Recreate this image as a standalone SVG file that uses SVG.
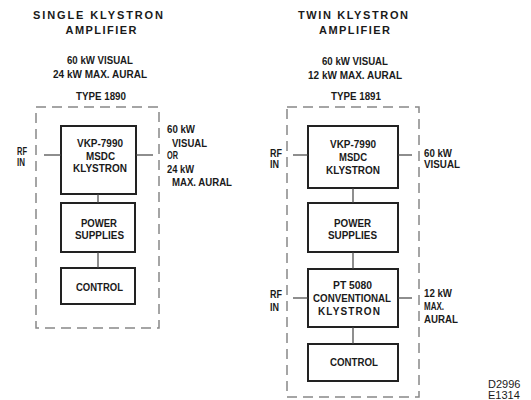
<svg xmlns="http://www.w3.org/2000/svg" width="531" height="400" viewBox="0 0 531 400">
<style>
text{font-family:"Liberation Sans",Arial,sans-serif;font-weight:bold;fill:#1a1a1a;font-size:10px}
.t{font-size:11px}
.m{text-anchor:middle}
.box{fill:none;stroke:#222;stroke-width:2}
.dash{fill:none;stroke:#888;stroke-width:1.5;stroke-dasharray:10 6}
.c line{stroke:#444;stroke-width:1.2}
.id{font-weight:normal;font-size:11px}
</style>
<rect width="531" height="400" fill="#fff"/>
<!-- left panel labels -->
<g id="left-title">
<text class="t m" x="98" y="19" textLength="130">SINGLE KLYSTRON</text>
<text class="t m" x="101" y="34" textLength="71">AMPLIFIER</text>
<text class="m" x="100" y="64" textLength="66" lengthAdjust="spacingAndGlyphs">60 kW VISUAL</text>
<text class="m" x="100" y="78" textLength="94" lengthAdjust="spacingAndGlyphs">24 kW MAX. AURAL</text>
<text class="m" x="101" y="100" textLength="50" lengthAdjust="spacingAndGlyphs">TYPE 1890</text>
</g>
<rect id="left-enclosure" class="dash" x="36" y="107" width="123" height="221"/>
<g id="left-klystron">
<rect class="box" x="61" y="126" width="75" height="68"/>
<text class="m" x="100" y="147" textLength="46" lengthAdjust="spacingAndGlyphs">VKP-7990</text>
<text class="m" x="100.5" y="160" textLength="29" lengthAdjust="spacingAndGlyphs">MSDC</text>
<text class="m" x="100" y="172" textLength="54" lengthAdjust="spacingAndGlyphs">KLYSTRON</text>
</g>
<g id="left-power">
<rect class="box" x="61" y="203" width="74" height="49"/>
<text class="m" x="99" y="227" textLength="36" lengthAdjust="spacingAndGlyphs">POWER</text>
<text class="m" x="99.5" y="239" textLength="49" lengthAdjust="spacingAndGlyphs">SUPPLIES</text>
</g>
<g id="left-control">
<rect class="box" x="61" y="268" width="74" height="36"/>
<text class="m" x="99.5" y="291" textLength="47" lengthAdjust="spacingAndGlyphs">CONTROL</text>
</g>
<g id="left-io">
<text x="17" y="155" textLength="10" lengthAdjust="spacingAndGlyphs">RF</text>
<text x="17" y="166" textLength="8" lengthAdjust="spacingAndGlyphs">IN</text>
<text x="167" y="133" textLength="28" lengthAdjust="spacingAndGlyphs">60 kW</text>
<text x="172" y="147" textLength="35" lengthAdjust="spacingAndGlyphs">VISUAL</text>
<text x="167" y="159" textLength="11" lengthAdjust="spacingAndGlyphs">OR</text>
<text x="167" y="173" textLength="27" lengthAdjust="spacingAndGlyphs">24 kW</text>
<text x="172" y="186" textLength="60" lengthAdjust="spacingAndGlyphs">MAX. AURAL</text>
</g>
<!-- right panel labels -->
<g id="right-title">
<text class="t m" x="353" y="19" textLength="110">TWIN KLYSTRON</text>
<text class="t m" x="354.5" y="34" textLength="71">AMPLIFIER</text>
<text class="m" x="355" y="65" textLength="66" lengthAdjust="spacingAndGlyphs">60 kW VISUAL</text>
<text class="m" x="355" y="79" textLength="94" lengthAdjust="spacingAndGlyphs">12 kW MAX. AURAL</text>
<text class="m" x="356" y="100" textLength="50" lengthAdjust="spacingAndGlyphs">TYPE 1891</text>
</g>
<rect id="right-enclosure" class="dash" x="287" y="107" width="132" height="290"/>
<g id="right-klystron">
<rect class="box" x="308" y="126" width="90" height="62"/>
<text class="m" x="353" y="148" textLength="46" lengthAdjust="spacingAndGlyphs">VKP-7990</text>
<text class="m" x="353" y="161" textLength="28" lengthAdjust="spacingAndGlyphs">MSDC</text>
<text class="m" x="353" y="174" textLength="54" lengthAdjust="spacingAndGlyphs">KLYSTRON</text>
</g>
<g id="right-power">
<rect class="box" x="308" y="203" width="90" height="49"/>
<text class="m" x="352.5" y="227" textLength="37" lengthAdjust="spacingAndGlyphs">POWER</text>
<text class="m" x="352.5" y="239" textLength="49" lengthAdjust="spacingAndGlyphs">SUPPLIES</text>
</g>
<g id="right-conventional">
<rect class="box" x="308" y="269" width="90" height="58"/>
<text class="m" x="352.5" y="289" textLength="39" lengthAdjust="spacingAndGlyphs">PT 5080</text>
<text class="m" x="352" y="302" textLength="78" lengthAdjust="spacingAndGlyphs">CONVENTIONAL</text>
<text class="m" x="349" y="315" textLength="62">KLYSTRON</text>
</g>
<g id="right-control">
<rect class="box" x="308" y="344" width="90" height="37"/>
<text class="m" x="354" y="366" textLength="48" lengthAdjust="spacingAndGlyphs">CONTROL</text>
</g>
<g id="right-io">
<text x="270" y="157" textLength="12" lengthAdjust="spacingAndGlyphs">RF</text>
<text x="270" y="168" textLength="9" lengthAdjust="spacingAndGlyphs">IN</text>
<text x="424" y="157" textLength="28" lengthAdjust="spacingAndGlyphs">60 kW</text>
<text x="424" y="168" textLength="36" lengthAdjust="spacingAndGlyphs">VISUAL</text>
<text x="270" y="298" textLength="12" lengthAdjust="spacingAndGlyphs">RF</text>
<text x="270" y="311" textLength="9" lengthAdjust="spacingAndGlyphs">IN</text>
<text x="424" y="297" textLength="28" lengthAdjust="spacingAndGlyphs">12 kW</text>
<text x="424" y="310" textLength="20" lengthAdjust="spacingAndGlyphs">MAX.</text>
<text x="424" y="323" textLength="34" lengthAdjust="spacingAndGlyphs">AURAL</text>
</g>
<g id="connectors" class="c">
<line x1="44" y1="155" x2="61" y2="155"/>
<line x1="136" y1="155" x2="153" y2="155"/>
<line x1="98" y1="194" x2="98" y2="203"/>
<line x1="98" y1="252" x2="98" y2="268"/>
<line x1="293" y1="155" x2="308" y2="155"/>
<line x1="398" y1="155" x2="412" y2="155"/>
<line x1="353" y1="188" x2="353" y2="203"/>
<line x1="353" y1="252" x2="353" y2="269"/>
<line x1="293" y1="298" x2="308" y2="298"/>
<line x1="398" y1="298" x2="412" y2="298"/>
<line x1="353" y1="327" x2="353" y2="344"/>
</g>
<g id="drawing-id">
<text class="id" x="488" y="388">D2996</text>
<text class="id" x="488" y="399">E1314</text>
</g>
</svg>
